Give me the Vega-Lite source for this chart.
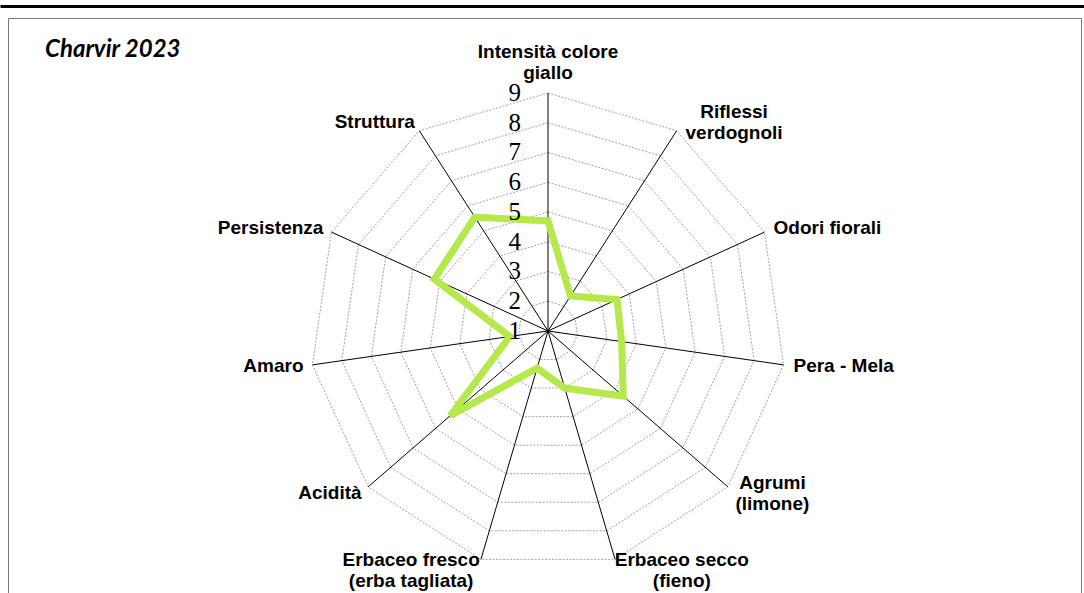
{
  "$schema": "https://vega.github.io/schema/vega-lite/v6.json",
  "width": 1073,
  "height": 575,
  "autosize": {"type": "none"},
  "padding": {"top": 18, "left": 8, "right": 3, "bottom": 0},
  "background": "white",
  "config": {
    "view": {"stroke": "#767676", "strokeWidth": 1},
    "text": {"font": "Liberation Sans", "fontWeight": "bold", "fontSize": 19, "lineHeight": 21, "baseline": "middle", "lineBreak": "\n", "color": "#000"}
  },
  "title": {"text": "Charvir 2023", "anchor": "start", "frame": "group", "orient": "top", "offset": -40, "dx": 37, "dy": 35, "baseline": "alphabetic", "font": "Lato", "fontSize": 24, "fontWeight": "bold", "fontStyle": "italic", "color": "#000"},
  "datasets": {
    "axes": [
      {"idx": 0, "name": "Intensità colore\ngiallo", "value": 4.7},
      {"idx": 1, "name": "Riflessi\nverdognoli", "value": 2.4},
      {"idx": 2, "name": "Odori fiorali", "value": 3.55},
      {"idx": 3, "name": "Pera - Mela", "value": 3.5},
      {"idx": 4, "name": "Agrumi\n(limone)", "value": 4.35},
      {"idx": 5, "name": "Erbaceo secco\n(fieno)", "value": 3.0},
      {"idx": 6, "name": "Erbaceo fresco\n(erba tagliata)", "value": 2.3},
      {"idx": 7, "name": "Acidità", "value": 5.35},
      {"idx": 8, "name": "Amaro", "value": 2.3},
      {"idx": 9, "name": "Persistenza", "value": 5.2},
      {"idx": 10, "name": "Struttura", "value": 5.55}
    ],
    "ticks": [{"v": 1}, {"v": 2}, {"v": 3}, {"v": 4}, {"v": 5}, {"v": 6}, {"v": 7}, {"v": 8}, {"v": 9}]
  },
  "layer": [
    {
      "data": {"name": "axes"},
      "transform": [
        {"calculate": "[2,3,4,5,6,7,8,9]", "as": "lv"},
        {"flatten": ["lv"]},
        {"calculate": "datum.idx * 2 * PI / 11", "as": "a"},
        {"calculate": "(datum.lv - 1) * sin(datum.a)", "as": "x"},
        {"calculate": "(datum.lv - 1) * cos(datum.a)", "as": "y"}
      ],
      "mark": {"type": "line", "interpolate": "linear-closed", "stroke": "#8a8a8a", "strokeWidth": 0.8, "strokeDash": [2, 1.5]},
      "encoding": {
        "x": {"field": "x", "type": "quantitative", "scale": {"domain": [-18.42, 18.017], "range": [-8, 1076], "nice": false, "zero": false}, "axis": {"orient": "top", "offset": 12, "domain": true, "domainColor": "#000", "domainWidth": 3, "ticks": false, "labels": false, "grid": false, "title": null}},
        "y": {"field": "y", "type": "quantitative", "scale": {"domain": [-8.807, 10.521], "nice": false, "zero": false}, "axis": null},
        "detail": {"field": "lv", "type": "nominal"},
        "order": {"field": "idx", "type": "quantitative"}
      }
    },
    {
      "data": {"name": "axes"},
      "transform": [
        {"calculate": "datum.idx * 2 * PI / 11", "as": "a"},
        {"calculate": "0", "as": "x0"},
        {"calculate": "0", "as": "y0"},
        {"calculate": "8 * sin(datum.a)", "as": "x"},
        {"calculate": "8 * cos(datum.a)", "as": "y"}
      ],
      "mark": {"type": "rule", "stroke": "#000", "strokeWidth": 1},
      "encoding": {
        "x": {"field": "x0", "type": "quantitative", "scale": {"domain": [-18.42, 18.017], "range": [-8, 1076], "nice": false, "zero": false}, "axis": {"orient": "top", "offset": 12, "domain": true, "domainColor": "#000", "domainWidth": 3, "ticks": false, "labels": false, "grid": false, "title": null}},
        "y": {"field": "y0", "type": "quantitative", "scale": {"domain": [-8.807, 10.521], "nice": false, "zero": false}, "axis": null},
        "x2": {"field": "x"},
        "y2": {"field": "y"}
      }
    },
    {
      "data": {"name": "axes"},
      "transform": [
        {"calculate": "datum.idx * 2 * PI / 11", "as": "a"},
        {"calculate": "(datum.value - 1) * sin(datum.a)", "as": "x"},
        {"calculate": "(datum.value - 1) * cos(datum.a)", "as": "y"}
      ],
      "mark": {"type": "line", "interpolate": "linear-closed", "stroke": "#b4e84b", "strokeWidth": 7, "strokeJoin": "miter"},
      "encoding": {
        "x": {"field": "x", "type": "quantitative", "scale": {"domain": [-18.42, 18.017], "range": [-8, 1076], "nice": false, "zero": false}, "axis": {"orient": "top", "offset": 12, "domain": true, "domainColor": "#000", "domainWidth": 3, "ticks": false, "labels": false, "grid": false, "title": null}},
        "y": {"field": "y", "type": "quantitative", "scale": {"domain": [-8.807, 10.521], "nice": false, "zero": false}, "axis": null},
        "order": {"field": "idx", "type": "quantitative"}
      }
    },
    {
      "data": {"name": "ticks"},
      "transform": [{"calculate": "datum.v - 1", "as": "y"}, {"calculate": "0", "as": "x0"}],
      "mark": {"type": "text", "font": "Liberation Serif", "fontWeight": "normal", "fontSize": 25, "align": "right", "dx": -27, "baseline": "middle"},
      "encoding": {
        "x": {"field": "x0", "type": "quantitative", "scale": {"domain": [-18.42, 18.017], "range": [-8, 1076], "nice": false, "zero": false}, "axis": {"orient": "top", "offset": 12, "domain": true, "domainColor": "#000", "domainWidth": 3, "ticks": false, "labels": false, "grid": false, "title": null}},
        "y": {"field": "y", "type": "quantitative", "scale": {"domain": [-8.807, 10.521], "nice": false, "zero": false}, "axis": null},
        "text": {"field": "v", "type": "quantitative"}
      }
    },
    {
      "data": {"name": "axes"},
      "transform": [
        {"filter": "datum.idx == 2 || datum.idx == 3"},
        {"calculate": "datum.idx * 2 * PI / 11", "as": "a"},
        {"calculate": "8.336 * sin(datum.a)", "as": "x"},
        {"calculate": "8.336 * cos(datum.a)", "as": "y"}
      ],
      "mark": {"type": "text", "align": "left"},
      "encoding": {
        "x": {"field": "x", "type": "quantitative", "scale": {"domain": [-18.42, 18.017], "range": [-8, 1076], "nice": false, "zero": false}, "axis": {"orient": "top", "offset": 12, "domain": true, "domainColor": "#000", "domainWidth": 3, "ticks": false, "labels": false, "grid": false, "title": null}},
        "y": {"field": "y", "type": "quantitative", "scale": {"domain": [-8.807, 10.521], "nice": false, "zero": false}, "axis": null},
        "text": {"field": "name", "type": "nominal"}
      }
    },
    {
      "data": {"name": "axes"},
      "transform": [
        {"filter": "datum.idx >= 7"},
        {"calculate": "datum.idx * 2 * PI / 11", "as": "a"},
        {"calculate": "8.336 * sin(datum.a)", "as": "x"},
        {"calculate": "8.336 * cos(datum.a)", "as": "y"}
      ],
      "mark": {"type": "text", "align": "right", "dx": 1},
      "encoding": {
        "x": {"field": "x", "type": "quantitative", "scale": {"domain": [-18.42, 18.017], "range": [-8, 1076], "nice": false, "zero": false}, "axis": {"orient": "top", "offset": 12, "domain": true, "domainColor": "#000", "domainWidth": 3, "ticks": false, "labels": false, "grid": false, "title": null}},
        "y": {"field": "y", "type": "quantitative", "scale": {"domain": [-8.807, 10.521], "nice": false, "zero": false}, "axis": null},
        "text": {"field": "name", "type": "nominal"}
      }
    },
    {
      "data": {"name": "axes"},
      "transform": [
        {"filter": "datum.idx == 0"},
        {"calculate": "datum.idx * 2 * PI / 11", "as": "a"},
        {"calculate": "8.336 * sin(datum.a)", "as": "x"},
        {"calculate": "8.336 * cos(datum.a)", "as": "y"}
      ],
      "mark": {"type": "text", "align": "center", "dy": -31},
      "encoding": {
        "x": {"field": "x", "type": "quantitative", "scale": {"domain": [-18.42, 18.017], "range": [-8, 1076], "nice": false, "zero": false}, "axis": {"orient": "top", "offset": 12, "domain": true, "domainColor": "#000", "domainWidth": 3, "ticks": false, "labels": false, "grid": false, "title": null}},
        "y": {"field": "y", "type": "quantitative", "scale": {"domain": [-8.807, 10.521], "nice": false, "zero": false}, "axis": null},
        "text": {"field": "name", "type": "nominal"}
      }
    },
    {
      "data": {"name": "axes"},
      "transform": [
        {"filter": "datum.idx == 1"},
        {"calculate": "datum.idx * 2 * PI / 11", "as": "a"},
        {"calculate": "8.336 * sin(datum.a)", "as": "x"},
        {"calculate": "8.336 * cos(datum.a)", "as": "y"}
      ],
      "mark": {"type": "text", "align": "center", "dx": 52, "dy": -10},
      "encoding": {
        "x": {"field": "x", "type": "quantitative", "scale": {"domain": [-18.42, 18.017], "range": [-8, 1076], "nice": false, "zero": false}, "axis": {"orient": "top", "offset": 12, "domain": true, "domainColor": "#000", "domainWidth": 3, "ticks": false, "labels": false, "grid": false, "title": null}},
        "y": {"field": "y", "type": "quantitative", "scale": {"domain": [-8.807, 10.521], "nice": false, "zero": false}, "axis": null},
        "text": {"field": "name", "type": "nominal"}
      }
    },
    {
      "data": {"name": "axes"},
      "transform": [
        {"filter": "datum.idx == 4"},
        {"calculate": "datum.idx * 2 * PI / 11", "as": "a"},
        {"calculate": "8.336 * sin(datum.a)", "as": "x"},
        {"calculate": "8.336 * cos(datum.a)", "as": "y"}
      ],
      "mark": {"type": "text", "align": "center", "dx": 37, "dy": -10},
      "encoding": {
        "x": {"field": "x", "type": "quantitative", "scale": {"domain": [-18.42, 18.017], "range": [-8, 1076], "nice": false, "zero": false}, "axis": {"orient": "top", "offset": 12, "domain": true, "domainColor": "#000", "domainWidth": 3, "ticks": false, "labels": false, "grid": false, "title": null}},
        "y": {"field": "y", "type": "quantitative", "scale": {"domain": [-8.807, 10.521], "nice": false, "zero": false}, "axis": null},
        "text": {"field": "name", "type": "nominal"}
      }
    },
    {
      "data": {"name": "axes"},
      "transform": [
        {"filter": "datum.idx == 5"},
        {"calculate": "datum.idx * 2 * PI / 11", "as": "a"},
        {"calculate": "8.336 * sin(datum.a)", "as": "x"},
        {"calculate": "8.336 * cos(datum.a)", "as": "y"}
      ],
      "mark": {"type": "text", "align": "center", "dx": 64, "dy": -9},
      "encoding": {
        "x": {"field": "x", "type": "quantitative", "scale": {"domain": [-18.42, 18.017], "range": [-8, 1076], "nice": false, "zero": false}, "axis": {"orient": "top", "offset": 12, "domain": true, "domainColor": "#000", "domainWidth": 3, "ticks": false, "labels": false, "grid": false, "title": null}},
        "y": {"field": "y", "type": "quantitative", "scale": {"domain": [-8.807, 10.521], "nice": false, "zero": false}, "axis": null},
        "text": {"field": "name", "type": "nominal"}
      }
    },
    {
      "data": {"name": "axes"},
      "transform": [
        {"filter": "datum.idx == 6"},
        {"calculate": "datum.idx * 2 * PI / 11", "as": "a"},
        {"calculate": "8.336 * sin(datum.a)", "as": "x"},
        {"calculate": "8.336 * cos(datum.a)", "as": "y"}
      ],
      "mark": {"type": "text", "align": "center", "dx": -67, "dy": -9},
      "encoding": {
        "x": {"field": "x", "type": "quantitative", "scale": {"domain": [-18.42, 18.017], "range": [-8, 1076], "nice": false, "zero": false}, "axis": {"orient": "top", "offset": 12, "domain": true, "domainColor": "#000", "domainWidth": 3, "ticks": false, "labels": false, "grid": false, "title": null}},
        "y": {"field": "y", "type": "quantitative", "scale": {"domain": [-8.807, 10.521], "nice": false, "zero": false}, "axis": null},
        "text": {"field": "name", "type": "nominal"}
      }
    }
  ]
}
